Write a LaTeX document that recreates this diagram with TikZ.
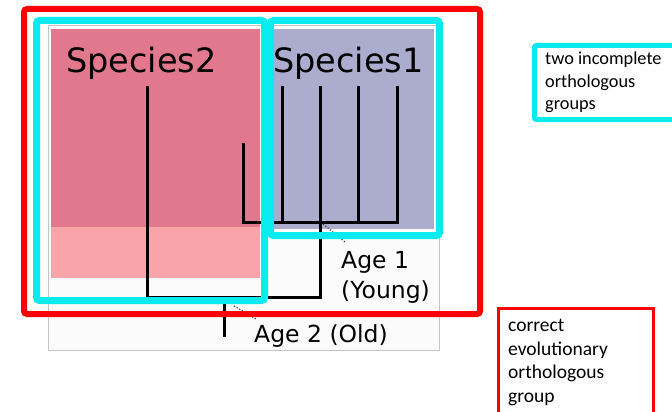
\documentclass[tikz,border=0pt]{standalone}
\usepackage{fontspec}
\newfontfamily\vfont{DejaVu Sans}
\newfontfamily\cfont{Carlito}
\definecolor{cyanline}{RGB}{8,236,240}
\definecolor{redline}{RGB}{255,0,0}
\definecolor{pinkdark}{RGB}{226,120,142}
\definecolor{pinklight}{RGB}{248,164,168}
\definecolor{lavender}{RGB}{172,172,206}
\definecolor{framegray}{RGB}{196,196,196}
\definecolor{panelbg}{RGB}{251,251,251}
\definecolor{dotgray}{RGB}{60,60,60}

\begin{document}
\begin{tikzpicture}[x=1pt,y=-1pt,
  branch/.style={line width=3pt, line cap=rect, line join=miter},
  agehint/.style={dotgray, line width=1.2pt, dash pattern=on 1.2pt off 1.8pt},
  groupbox/.style={cyanline, line width=7pt, rounded corners=3pt},
  familybox/.style={redline, line width=6pt, rounded corners=3pt},
  speciesname/.style={font=\vfont\fontsize{33.5}{40}\selectfont, anchor=base west, inner sep=0pt},
  agelabel/.style={font=\vfont\fontsize{23.5}{28}\selectfont, anchor=base west, inner sep=0pt},
  legendtext/.style={font=\cfont\fontsize{18.3}{22}\selectfont, anchor=base west, inner sep=0pt},
  legendtextb/.style={font=\cfont\fontsize{19.5}{24}\selectfont, anchor=base west, inner sep=0pt}]
\useasboundingbox (0,0) rectangle (672,412);
\clip (0,0) rectangle (672,412);
\fill[white] (0,0) rectangle (672,412);

% panel with the two species blocks
\draw[framegray, fill=panelbg, line width=0.8pt] (48,25) rectangle (439,350);
\fill[pinkdark] (51,29) rectangle (260,227);
\fill[pinklight] (51,227) rectangle (260,278);
\fill[lavender] (274,29) rectangle (434,229);

\node[speciesname] (sp2) at (66,73) {Species2};
\node[speciesname] (sp1) at (273,73) {Species1};

% gene tree
\coordinate (s2) at (147,87);
\coordinate (p0) at (243,144);
\coordinate (l1) at (282,87);
\coordinate (l2) at (320,87);
\coordinate (l3) at (358,87);
\coordinate (l4) at (397,87);
\coordinate (j1) at (320,222);
\coordinate (j2) at (320,297);
\coordinate (root) at (224,335);

\draw[branch] (p0) |- (j1) -| (l4);
\draw[branch] (l1) -- (l1 |- j1);
\draw[branch] (l2) -- (j1);
\draw[branch] (l3) -- (l3 |- j1);
\draw[branch] (s2) |- (j2) -- (j1);
\draw[branch] (root) -- (root |- j2);

% age markers
\coordinate (a1s) at (323,224);
\coordinate (a1e) at (345,242);
\coordinate (a2s) at (234,306);
\coordinate (a2e) at (256,319);
\draw[agehint] (a1s) -- (a1e);
\draw[agehint] (a2s) -- (a2e);
\node[agelabel] (age1) at (341,268) {Age 1};
\node[agelabel] (young) at (341,298) {(Young)};
\node[agelabel] (age2) at (254,342) {Age 2 (Old)};

% orthologous group outlines
\draw[groupbox] (36.5,20.5) rectangle (264.5,300.5);
\draw[groupbox] (270.5,20.5) rectangle (439.5,235.5);
\draw[familybox] (24,9) rectangle (480,314);

% legend
\draw[cyanline, line width=5pt, rounded corners=2pt] (534.5,45.5) rectangle (680,119.5);
\node[legendtext] (lg1) at (545,65) {two incomplete};
\node[legendtext] (lg2) at (545,87.5) {orthologous};
\node[legendtext] (lg3) at (545,110) {groups};

\draw[redline, line width=3pt] (498.5,308.5) rectangle (653.5,430);
\node[legendtextb] (lr1) at (508,331) {correct};
\node[legendtextb] (lr2) at (508,355) {evolutionary};
\node[legendtextb] (lr3) at (508,378.5) {orthologous};
\node[legendtextb] (lr4) at (508,402) {group};
\end{tikzpicture}
\end{document}
